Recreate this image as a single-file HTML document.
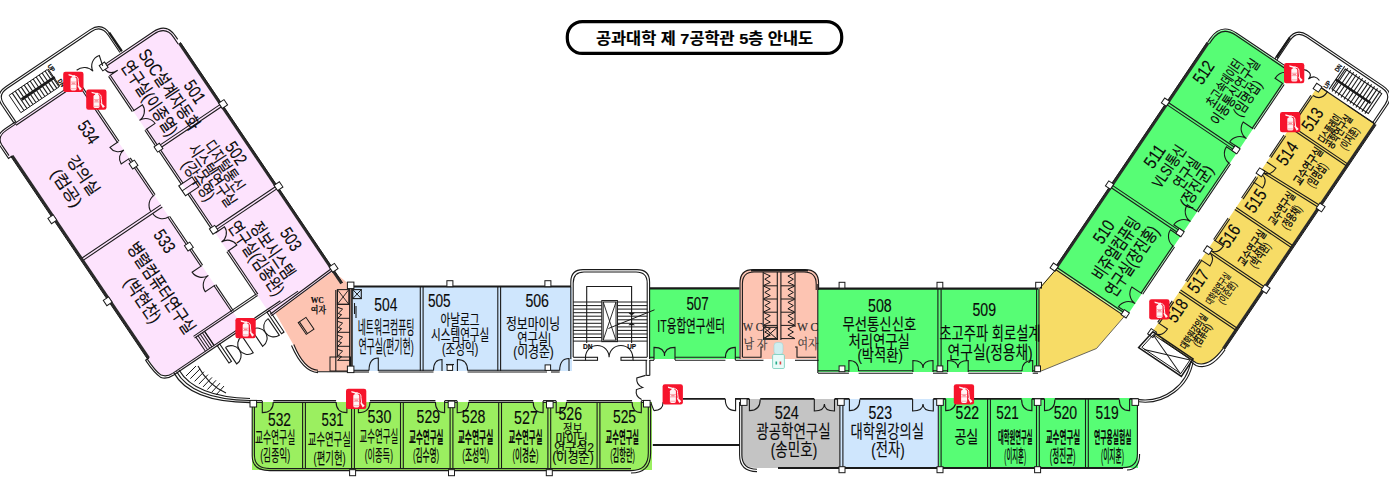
<!DOCTYPE html><html lang="ko"><head><meta charset="utf-8"><title>공과대학 제 7공학관 5층 안내도</title><style>html,body{margin:0;padding:0;background:#fff}svg{display:block}text{font-family:"Liberation Sans","Noto Sans CJK KR",sans-serif;fill:#0a0a0a;stroke:#0a0a0a;stroke-width:.15px}</style></head><body><svg width="1389" height="487" viewBox="0 0 1389 487"><rect x="353" y="287" width="219" height="84" fill="#cfe6fd" stroke="none" stroke-width="1"/>
<rect x="649" y="288" width="90" height="71" fill="#57fd75" stroke="none" stroke-width="1"/>
<path d="M740,359 V280 Q740,270 750,270 H808 Q818,270 818,280 V359 Z" fill="#fdc4b2" stroke="none" stroke-width="1"/>
<rect x="818" y="289" width="221" height="83" fill="#57fd75" stroke="none" stroke-width="1"/>
<polygon points="1039,288 1056.6,268.7 1125.1,315.5 1096.5,348.5 1040,371.5 1039,371.5" fill="#f7dc66" stroke="none" stroke-width="1"/>
<rect x="252" y="402" width="400" height="68" fill="#9bef60" stroke="none" stroke-width="1"/>
<path d="M741,399 H841 V468 H757 Q741,468 741,454 Z" fill="#c4c4c4" stroke="none" stroke-width="1"/>
<rect x="840" y="399" width="99" height="69" fill="#cfe6fd" stroke="none" stroke-width="1"/>
<rect x="939" y="398" width="199" height="70" fill="#57fd75" stroke="none" stroke-width="1"/>
<g transform="matrix(0.5592,0.8290,-0.8290,0.5592,165.7,23.4)">
<path d="M16,0 H312 L302,76 H0 V16 Q0,0 16,0 Z" fill="#fde3fd" stroke="none" stroke-width="1"/>
<path d="M-1.5,105.5 H295 V190 Q293,202 280,202 H24 V204.5 H9 Q-1.5,203 -1.5,192 Z" fill="#fde3fd" stroke="none" stroke-width="1"/>
</g>
<g transform="matrix(0.5592,-0.8290,0.8290,0.5592,1056.3,268.5)">
<path d="M0,0 H277 Q295,0 295,18 V85 H0 Z" fill="#57fd75" stroke="none" stroke-width="1"/>
<path d="M27,183 Q3,182 0,169 V115 H298 V183 Z" fill="#f7dc66" stroke="none" stroke-width="1"/>
</g>
<path d="M275,312.5 L333,271.5 L351.5,286 V371.5 H317 Q305,371 293,344 Z" fill="#fdc4b2" stroke="none" stroke-width="1"/>
<g transform="matrix(0.5592,0.8290,-0.8290,0.5592,165.7,23.4)">
<path d="M0,76 V15 Q0,-1 16,-1 H20" fill="none" stroke="#1a1a1a" stroke-width="1.1"/>
<path d="M2.2,76 V16 Q2.2,1.2 16,1.2 H24" fill="none" stroke="#1a1a1a" stroke-width="1.1"/>
<line x1="24" y1="-0.3" x2="314" y2="-0.3" stroke="#2a2a2a" stroke-width="2.8"/>
<line x1="24" y1="-1.6" x2="314" y2="-1.6" stroke="#1a1a1a" stroke-width="0.9"/>
<line x1="97.7" y1="0" x2="97.7" y2="76" stroke="#1a1a1a" stroke-width="1.1"/>
<line x1="100.3" y1="0" x2="100.3" y2="76" stroke="#1a1a1a" stroke-width="1.1"/>
<line x1="196.7" y1="0" x2="196.7" y2="76" stroke="#1a1a1a" stroke-width="1.1"/>
<line x1="199.3" y1="0" x2="199.3" y2="76" stroke="#1a1a1a" stroke-width="1.1"/>
<line x1="296" y1="0" x2="299.5" y2="76" stroke="#1a1a1a" stroke-width="1.1"/>
<line x1="298" y1="0" x2="301.5" y2="76" stroke="#1a1a1a" stroke-width="1.1"/>
<line x1="12" y1="75" x2="54.5" y2="75" stroke="#1a1a1a" stroke-width="1.1"/>
<line x1="12" y1="77" x2="54.5" y2="77" stroke="#1a1a1a" stroke-width="1.1"/>
<line x1="77" y1="75" x2="142" y2="75" stroke="#1a1a1a" stroke-width="1.1"/>
<line x1="77" y1="77" x2="142" y2="77" stroke="#1a1a1a" stroke-width="1.1"/>
<line x1="154" y1="75" x2="198" y2="75" stroke="#1a1a1a" stroke-width="1.1"/>
<line x1="154" y1="77" x2="198" y2="77" stroke="#1a1a1a" stroke-width="1.1"/>
<line x1="223.5" y1="75" x2="276" y2="75" stroke="#1a1a1a" stroke-width="1.1"/>
<line x1="223.5" y1="77" x2="276" y2="77" stroke="#1a1a1a" stroke-width="1.1"/>
<path d="M54.5,76 L54.5,64.75 A11.25,11.25 0 0 1 65.75,76 M77.0,76 L77.0,64.75 A11.25,11.25 0 0 0 65.75,76" fill="none" stroke="#1a1a1a" stroke-width="1.1"/>
<path d="M201.5,76 L201.5,65.0 A11.0,11.0 0 0 1 212.5,76 M223.5,76 L223.5,65.0 A11.0,11.0 0 0 0 212.5,76" fill="none" stroke="#1a1a1a" stroke-width="1.1"/>
<rect x="142" y="64" width="12" height="16" fill="none" stroke="#1a1a1a" stroke-width="1.1"/>
<line x1="148" y1="64" x2="148" y2="80" stroke="#1a1a1a" stroke-width="1.0"/>
<path d="M0,76 H3 Q12,76 12,66 V76" fill="none" stroke="#1a1a1a" stroke-width="1.1"/>
<rect x="95.8" y="-5.7" width="6.4" height="6.4" fill="#fff" stroke="#1a1a1a" stroke-width="1"/>
<rect x="194.8" y="-5.7" width="6.4" height="6.4" fill="#fff" stroke="#1a1a1a" stroke-width="1"/>
<rect x="293.3" y="-5.7" width="6.4" height="6.4" fill="#fff" stroke="#1a1a1a" stroke-width="1"/>
<rect x="-2.2" y="72.3" width="6.4" height="6.4" fill="#fff" stroke="#1a1a1a" stroke-width="1"/>
<rect x="95.8" y="72.3" width="6.4" height="6.4" fill="#fff" stroke="#1a1a1a" stroke-width="1"/>
<rect x="194.8" y="72.3" width="6.4" height="6.4" fill="#fff" stroke="#1a1a1a" stroke-width="1"/>
<line x1="-1.5" y1="104.6" x2="71.6" y2="104.6" stroke="#1a1a1a" stroke-width="1.1"/>
<line x1="-1.5" y1="106.6" x2="71.6" y2="106.6" stroke="#1a1a1a" stroke-width="1.1"/>
<line x1="91.6" y1="104.6" x2="136" y2="104.6" stroke="#1a1a1a" stroke-width="1.1"/>
<line x1="91.6" y1="106.6" x2="136" y2="106.6" stroke="#1a1a1a" stroke-width="1.1"/>
<line x1="162" y1="104.6" x2="221" y2="104.6" stroke="#1a1a1a" stroke-width="1.1"/>
<line x1="162" y1="106.6" x2="221" y2="106.6" stroke="#1a1a1a" stroke-width="1.1"/>
<line x1="244.5" y1="104.6" x2="276" y2="104.6" stroke="#1a1a1a" stroke-width="1.1"/>
<line x1="244.5" y1="106.6" x2="276" y2="106.6" stroke="#1a1a1a" stroke-width="1.1"/>
<path d="M71.6,105.5 L71.6,115.5 A10.0,10.0 0 0 0 81.6,105.5 M91.6,105.5 L91.6,115.5 A10.0,10.0 0 0 1 81.6,105.5" fill="none" stroke="#1a1a1a" stroke-width="1.1"/>
<path d="M221,105.5 L221,117.25 A11.75,11.75 0 0 0 232.75,105.5 M244.5,105.5 L244.5,117.25 A11.75,11.75 0 0 1 232.75,105.5" fill="none" stroke="#1a1a1a" stroke-width="1.1"/>
<path d="M136,105.5 A12,12 0 0 0 148,117.5" fill="none" stroke="#1a1a1a" stroke-width="1.1"/>
<path d="M150.3,117 A11.5,11.5 0 0 0 162,105.5" fill="none" stroke="#1a1a1a" stroke-width="1.1"/>
<line x1="147.7" y1="105.5" x2="147.7" y2="201" stroke="#1a1a1a" stroke-width="1.1"/>
<line x1="150.3" y1="105.5" x2="150.3" y2="201" stroke="#1a1a1a" stroke-width="1.1"/>
<line x1="24" y1="201.3" x2="268" y2="201.3" stroke="#2a2a2a" stroke-width="2.8"/>
<line x1="24" y1="202.8" x2="268" y2="202.8" stroke="#1a1a1a" stroke-width="0.9"/>
<path d="M-2.5,180 V192 Q-2.5,205.5 9,205.8 H24 V201" fill="none" stroke="#1a1a1a" stroke-width="1.1"/>
<path d="M-0.5,180 V192 Q-0.5,203.5 9,203.8 H22" fill="none" stroke="#1a1a1a" stroke-width="1.1"/>
<path d="M268,201 V205 H270 Q283,205 291,202 Q296,198 296,190" fill="none" stroke="#1a1a1a" stroke-width="1.1"/>
<path d="M268,203 Q283,203 289,200.5 Q294,197 294,190" fill="none" stroke="#1a1a1a" stroke-width="1.1"/>
<line x1="-1.5" y1="105.5" x2="-1.5" y2="181" stroke="#1a1a1a" stroke-width="1.1"/>
<line x1="0.8" y1="105.5" x2="0.8" y2="181" stroke="#1a1a1a" stroke-width="1.1"/>
<rect x="95.8" y="102.4" width="6.4" height="6.4" fill="#fff" stroke="#1a1a1a" stroke-width="1"/>
<rect x="194.8" y="102.4" width="6.4" height="6.4" fill="#fff" stroke="#1a1a1a" stroke-width="1"/>
<rect x="95.8" y="200.3" width="6.4" height="6.4" fill="#fff" stroke="#1a1a1a" stroke-width="1"/>
<rect x="194.8" y="200.3" width="6.4" height="6.4" fill="#fff" stroke="#1a1a1a" stroke-width="1"/>
<line x1="275" y1="76" x2="275" y2="152" stroke="#1a1a1a" stroke-width="1.1"/>
<line x1="277" y1="76" x2="277" y2="152" stroke="#1a1a1a" stroke-width="1.1"/>
<line x1="294" y1="60" x2="294" y2="190" stroke="#1a1a1a" stroke-width="1.1"/>
<line x1="296" y1="40" x2="296" y2="190" stroke="#1a1a1a" stroke-width="1.1"/>
<line x1="277" y1="140" x2="294" y2="140" stroke="#1a1a1a" stroke-width="1.0"/>
<line x1="277" y1="142.6" x2="294" y2="142.6" stroke="#1a1a1a" stroke-width="1.0"/>
<line x1="277" y1="145.2" x2="294" y2="145.2" stroke="#1a1a1a" stroke-width="1.0"/>
<line x1="277" y1="147.8" x2="294" y2="147.8" stroke="#1a1a1a" stroke-width="1.0"/>
<line x1="277" y1="150.4" x2="294" y2="150.4" stroke="#1a1a1a" stroke-width="1.0"/>
<line x1="277" y1="140" x2="294" y2="140" stroke="#1a1a1a" stroke-width="1.1"/>
<path d="M0,76 L-10.5,73 A11,11 0 0 0 -1,87 A12,12 0 0 0 -11,100" fill="none" stroke="#1a1a1a" stroke-width="1.1"/>
<path d="M302,131.6 H322 A10,10 0 0 0 302,131.6" fill="none" stroke="#1a1a1a" stroke-width="1.1"/>
<path d="M302,111.6 H322 A10,10 0 0 1 302,111.6" fill="none" stroke="#1a1a1a" stroke-width="1.1"/>
<path d="M302,100.2 H322 A10,10 0 0 0 302,100.2" fill="none" stroke="#1a1a1a" stroke-width="1.1"/>
<path d="M302,80.2 H322 A10,10 0 0 1 302,80.2" fill="none" stroke="#1a1a1a" stroke-width="1.1"/>
<rect x="296" y="134.5" width="21" height="3" fill="none" stroke="#1a1a1a" stroke-width="1.1"/>
<rect x="296" y="74.5" width="26" height="3" fill="none" stroke="#1a1a1a" stroke-width="1.1"/>
<path d="M-1.5,52 H-22 Q-37,52 -37,66 V168 Q-37,181.5 -24,181.5 H-1.5" fill="none" stroke="#1a1a1a" stroke-width="1.1"/>
<path d="M-1.5,54.2 H-22 Q-34.8,54.2 -34.8,66 V168 Q-34.8,179.3 -24,179.3 H-1.5" fill="none" stroke="#1a1a1a" stroke-width="1.1"/>
<line x1="-24" y1="52" x2="-1.5" y2="52" stroke="#1a1a1a" stroke-width="2.4"/>
<rect x="-28" y="124" width="21" height="46" fill="none" stroke="#1a1a1a" stroke-width="0.9"/>
<line x1="-28" y1="123" x2="-7" y2="123" stroke="#1a1a1a" stroke-width="1.1"/>
<line x1="-28" y1="126.6" x2="-7" y2="126.6" stroke="#1a1a1a" stroke-width="1.1"/>
<line x1="-28" y1="130.2" x2="-7" y2="130.2" stroke="#1a1a1a" stroke-width="1.1"/>
<line x1="-28" y1="133.8" x2="-7" y2="133.8" stroke="#1a1a1a" stroke-width="1.1"/>
<line x1="-28" y1="137.4" x2="-7" y2="137.4" stroke="#1a1a1a" stroke-width="1.1"/>
<line x1="-28" y1="141" x2="-7" y2="141" stroke="#1a1a1a" stroke-width="1.1"/>
<line x1="-28" y1="144.6" x2="-7" y2="144.6" stroke="#1a1a1a" stroke-width="1.1"/>
<line x1="-28" y1="148.2" x2="-7" y2="148.2" stroke="#1a1a1a" stroke-width="1.1"/>
<line x1="-28" y1="151.8" x2="-7" y2="151.8" stroke="#1a1a1a" stroke-width="1.1"/>
<line x1="-28" y1="155.4" x2="-7" y2="155.4" stroke="#1a1a1a" stroke-width="1.1"/>
<line x1="-28" y1="159" x2="-7" y2="159" stroke="#1a1a1a" stroke-width="1.1"/>
<line x1="-28" y1="162.6" x2="-7" y2="162.6" stroke="#1a1a1a" stroke-width="1.1"/>
<line x1="-28" y1="166.2" x2="-7" y2="166.2" stroke="#1a1a1a" stroke-width="1.1"/>
<line x1="-17.5" y1="122" x2="-17.5" y2="162" stroke="#1a1a1a" stroke-width="2.8"/>
<text x="-31" y="122" font-size="6.5" font-weight="700" textLength="8" lengthAdjust="spacingAndGlyphs">UP</text>
<text x="-13" y="122" font-size="6.5" font-weight="700" textLength="8" lengthAdjust="spacingAndGlyphs">DN</text>
<text x="61" y="20.4" font-size="18" font-weight="400" textLength="24" lengthAdjust="spacingAndGlyphs">501</text>
<text x="10" y="40.5" font-size="18" font-weight="400" textLength="94" lengthAdjust="spacingAndGlyphs">SoC설계자동화</text>
<text x="10" y="61.5" font-size="18" font-weight="400" textLength="86" lengthAdjust="spacingAndGlyphs">연구실(이종열)</text>
<text x="135" y="20.4" font-size="18" font-weight="400" textLength="24" lengthAdjust="spacingAndGlyphs">502</text>
<text x="122" y="37" font-size="16.5" font-weight="400" textLength="58" lengthAdjust="spacingAndGlyphs">디지털통신</text>
<text x="116" y="52" font-size="16.5" font-weight="400" textLength="72" lengthAdjust="spacingAndGlyphs">시스템연구실</text>
<text x="126" y="66.5" font-size="16.5" font-weight="400" textLength="45" lengthAdjust="spacingAndGlyphs">(강수영)</text>
<text x="237" y="23" font-size="18" font-weight="400" textLength="24" lengthAdjust="spacingAndGlyphs">503</text>
<text x="216" y="44.5" font-size="18" font-weight="400" textLength="64" lengthAdjust="spacingAndGlyphs">정보시스템</text>
<text x="203" y="62.5" font-size="18" font-weight="400" textLength="85" lengthAdjust="spacingAndGlyphs">연구실(김종완)</text>
<text x="35" y="131" font-size="18" font-weight="400" textLength="24" lengthAdjust="spacingAndGlyphs">534</text>
<text x="58" y="159" font-size="16.5" font-weight="400" textLength="44" lengthAdjust="spacingAndGlyphs">강의실</text>
<text x="60" y="180" font-size="16.5" font-weight="400" textLength="42" lengthAdjust="spacingAndGlyphs">(컴공)</text>
<text x="168" y="129" font-size="18" font-weight="400" textLength="24" lengthAdjust="spacingAndGlyphs">533</text>
<text x="164" y="158" font-size="18" font-weight="400" textLength="106" lengthAdjust="spacingAndGlyphs">병렬컴퓨터연구실</text>
<text x="191" y="180" font-size="18" font-weight="400" textLength="51" lengthAdjust="spacingAndGlyphs">(박현찬)</text>
</g>
<line x1="351.2" y1="287" x2="351.2" y2="371" stroke="#1a1a1a" stroke-width="1.1"/>
<path d="M317,371.8 H351" fill="none" stroke="#1a1a1a" stroke-width="1.1"/>
<path d="M291.5,345.5 Q303,372 318,372.6" fill="none" stroke="#1a1a1a" stroke-width="1.1"/>
<path d="M293.8,344.5 Q304,369.5 318,370.2" fill="none" stroke="#1a1a1a" stroke-width="1.1"/>
<text x="310.8" y="303" font-size="8" font-weight="700" textLength="13" lengthAdjust="spacingAndGlyphs" style='font-family:"Liberation Serif","Noto Serif CJK KR",serif;'>WC</text>
<text x="310.8" y="313" font-size="8.6" font-weight="700" textLength="15.4" lengthAdjust="spacingAndGlyphs" style='font-family:"Liberation Serif","Noto Serif CJK KR",serif;'>여자</text>
<g transform="translate(306.1,325.9) rotate(55.6)" fill="none" stroke="#1a1a1a" stroke-width="1"><rect x="-7.1" y="-4.7" width="14.2" height="9.4"/><line x1="-7.1" y1="3.2" x2="7.1" y2="3.2"/></g>
<line x1="335.8" y1="290" x2="335.8" y2="371" stroke="#1a1a1a" stroke-width="1.1"/>
<line x1="337.4" y1="290" x2="337.4" y2="357" stroke="#1a1a1a" stroke-width="1.0"/>
<rect x="337.4" y="289.6" width="11.4" height="14.7" fill="none" stroke="#1a1a1a" stroke-width="1.0"/>
<line x1="337.4" y1="289.6" x2="348.8" y2="304.3" stroke="#1a1a1a" stroke-width="0.9"/>
<line x1="348.8" y1="289.6" x2="337.4" y2="304.3" stroke="#1a1a1a" stroke-width="0.9"/>
<path d="M337.6,307.3 l5,1.8 l-4.4,4.4 l3.4,1.2 l-4,3.6 M337.4,318.3 H350" fill="none" stroke="#1a1a1a" stroke-width="1.0"/>
<path d="M337.6,321.3 l5,1.8 l-4.4,4.4 l3.4,1.2 l-4,3.6 M337.4,332.3 H350" fill="none" stroke="#1a1a1a" stroke-width="1.0"/>
<path d="M337.6,335.3 l5,1.8 l-4.4,4.4 l3.4,1.2 l-4,3.6 M337.4,346.3 H350" fill="none" stroke="#1a1a1a" stroke-width="1.0"/>
<path d="M337.6,349.3 l5,1.8 l-4.4,4.4 l3.4,1.2 l-4,3.6 M337.4,360.3 H350" fill="none" stroke="#1a1a1a" stroke-width="1.0"/>
<line x1="337.4" y1="304.3" x2="350" y2="304.3" stroke="#1a1a1a" stroke-width="1.0"/>
<rect x="330" y="357" width="20.5" height="14" fill="none" stroke="#1a1a1a" stroke-width="1.0"/>
<line x1="349.6" y1="287" x2="349.6" y2="371" stroke="#1a1a1a" stroke-width="1.0"/>
<path d="M174,373 Q190,402 250,402.5" fill="none" stroke="#1a1a1a" stroke-width="1.4"/>
<path d="M176.5,371.5 Q192,399.5 250,400.5" fill="none" stroke="#1a1a1a" stroke-width="1.2"/>
<path d="M179,370 Q195,397 250,398.5" fill="none" stroke="#1a1a1a" stroke-width="1.2"/>
<path d="M198,366 Q208,385 226,393" fill="none" stroke="#1a1a1a" stroke-width="1.1"/>
<line x1="186" y1="376" x2="196" y2="366" stroke="#1a1a1a" stroke-width="1.0"/>
<line x1="190.3" y1="378.7" x2="200" y2="368.9" stroke="#1a1a1a" stroke-width="1.0"/>
<line x1="194.6" y1="381.4" x2="204" y2="371.7" stroke="#1a1a1a" stroke-width="1.0"/>
<line x1="198.9" y1="384.1" x2="208" y2="374.6" stroke="#1a1a1a" stroke-width="1.0"/>
<line x1="203.1" y1="386.9" x2="212" y2="377.4" stroke="#1a1a1a" stroke-width="1.0"/>
<line x1="207.4" y1="389.6" x2="216" y2="380.3" stroke="#1a1a1a" stroke-width="1.0"/>
<line x1="211.7" y1="392.3" x2="220" y2="383.1" stroke="#1a1a1a" stroke-width="1.0"/>
<line x1="216" y1="395" x2="224" y2="386" stroke="#1a1a1a" stroke-width="1.0"/>
<g transform="matrix(0.5592,-0.8290,0.8290,0.5592,1056.3,268.5)">
<line x1="0" y1="-0.3" x2="272" y2="-0.3" stroke="#2a2a2a" stroke-width="2.8"/>
<line x1="0" y1="-1.6" x2="272" y2="-1.6" stroke="#1a1a1a" stroke-width="0.9"/>
<path d="M272,-1 H276 Q296,-1 296,18 V85" fill="none" stroke="#1a1a1a" stroke-width="1.1"/>
<path d="M272,1.2 H276 Q293.8,1.2 293.8,18 V85" fill="none" stroke="#1a1a1a" stroke-width="1.1"/>
<line x1="-1.3" y1="0" x2="-1.3" y2="85" stroke="#1a1a1a" stroke-width="1.1"/>
<line x1="1.3" y1="0" x2="1.3" y2="85" stroke="#1a1a1a" stroke-width="1.1"/>
<line x1="97.7" y1="0" x2="97.7" y2="85" stroke="#1a1a1a" stroke-width="1.1"/>
<line x1="100.3" y1="0" x2="100.3" y2="85" stroke="#1a1a1a" stroke-width="1.1"/>
<line x1="197.7" y1="0" x2="197.7" y2="85" stroke="#1a1a1a" stroke-width="1.1"/>
<line x1="200.3" y1="0" x2="200.3" y2="85" stroke="#1a1a1a" stroke-width="1.1"/>
<line x1="27" y1="84" x2="84" y2="84" stroke="#1a1a1a" stroke-width="1.1"/>
<line x1="27" y1="86" x2="84" y2="86" stroke="#1a1a1a" stroke-width="1.1"/>
<line x1="126" y1="84" x2="184" y2="84" stroke="#1a1a1a" stroke-width="1.1"/>
<line x1="126" y1="86" x2="184" y2="86" stroke="#1a1a1a" stroke-width="1.1"/>
<line x1="226" y1="84" x2="280" y2="84" stroke="#1a1a1a" stroke-width="1.1"/>
<line x1="226" y1="86" x2="280" y2="86" stroke="#1a1a1a" stroke-width="1.1"/>
<path d="M3,85 L3,73.0 A12.0,12.0 0 0 1 15.0,85 M27,85 L27,73.0 A12.0,12.0 0 0 0 15.0,85" fill="none" stroke="#1a1a1a" stroke-width="1.1"/>
<path d="M102,85 L102,73.0 A12.0,12.0 0 0 1 114.0,85 M126,85 L126,73.0 A12.0,12.0 0 0 0 114.0,85" fill="none" stroke="#1a1a1a" stroke-width="1.1"/>
<path d="M96,85 V73 A12,12 0 0 0 84,85" fill="none" stroke="#1a1a1a" stroke-width="1.1"/>
<path d="M202,85 L202,73.0 A12.0,12.0 0 0 1 214.0,85 M226,85 L226,73.0 A12.0,12.0 0 0 0 214.0,85" fill="none" stroke="#1a1a1a" stroke-width="1.1"/>
<path d="M196,85 V73 A12,12 0 0 0 184,85" fill="none" stroke="#1a1a1a" stroke-width="1.1"/>
<path d="M280,85 V75 Q290,75 293,85" fill="none" stroke="#1a1a1a" stroke-width="1.1"/>
<rect x="-3" y="-5.5" width="6" height="6" fill="#fff" stroke="#1a1a1a" stroke-width="1"/>
<rect x="96" y="-5.5" width="6" height="6" fill="#fff" stroke="#1a1a1a" stroke-width="1"/>
<rect x="196" y="-5.5" width="6" height="6" fill="#fff" stroke="#1a1a1a" stroke-width="1"/>
<rect x="-2" y="79.5" width="6" height="6" fill="#fff" stroke="#1a1a1a" stroke-width="1"/>
<rect x="96" y="79.5" width="6" height="6" fill="#fff" stroke="#1a1a1a" stroke-width="1"/>
<rect x="196" y="79.5" width="6" height="6" fill="#fff" stroke="#1a1a1a" stroke-width="1"/>
<line x1="27" y1="183.3" x2="298" y2="183.3" stroke="#2a2a2a" stroke-width="2.8"/>
<line x1="27" y1="184.8" x2="298" y2="184.8" stroke="#1a1a1a" stroke-width="0.9"/>
<path d="M0,127 V169 Q3,182 27,183" fill="none" stroke="#1a1a1a" stroke-width="1.1"/>
<path d="M-2.2,164 V170 Q1,185 27,185.4" fill="none" stroke="#1a1a1a" stroke-width="1.1"/>
<line x1="49.3" y1="115" x2="49.3" y2="183" stroke="#1a1a1a" stroke-width="1.1"/>
<line x1="51.7" y1="115" x2="51.7" y2="183" stroke="#1a1a1a" stroke-width="1.1"/>
<line x1="98.8" y1="115" x2="98.8" y2="183" stroke="#1a1a1a" stroke-width="1.1"/>
<line x1="101.2" y1="115" x2="101.2" y2="183" stroke="#1a1a1a" stroke-width="1.1"/>
<line x1="148.8" y1="115" x2="148.8" y2="183" stroke="#1a1a1a" stroke-width="1.1"/>
<line x1="151.2" y1="115" x2="151.2" y2="183" stroke="#1a1a1a" stroke-width="1.1"/>
<line x1="247.3" y1="115" x2="247.3" y2="183" stroke="#1a1a1a" stroke-width="1.1"/>
<line x1="249.7" y1="115" x2="249.7" y2="183" stroke="#1a1a1a" stroke-width="1.1"/>
<line x1="194.8" y1="115" x2="197.3" y2="183" stroke="#1a1a1a" stroke-width="1.1"/>
<line x1="197.2" y1="115" x2="199.7" y2="183" stroke="#1a1a1a" stroke-width="1.1"/>
<line x1="298" y1="115" x2="298" y2="183" stroke="#1a1a1a" stroke-width="1.1"/>
<line x1="12" y1="114.2" x2="38" y2="114.2" stroke="#1a1a1a" stroke-width="1.1"/>
<line x1="12" y1="116" x2="38" y2="116" stroke="#1a1a1a" stroke-width="1.1"/>
<line x1="62" y1="114.2" x2="88" y2="114.2" stroke="#1a1a1a" stroke-width="1.1"/>
<line x1="62" y1="116" x2="88" y2="116" stroke="#1a1a1a" stroke-width="1.1"/>
<line x1="112" y1="114.2" x2="138" y2="114.2" stroke="#1a1a1a" stroke-width="1.1"/>
<line x1="112" y1="116" x2="138" y2="116" stroke="#1a1a1a" stroke-width="1.1"/>
<line x1="162" y1="114.2" x2="188" y2="114.2" stroke="#1a1a1a" stroke-width="1.1"/>
<line x1="162" y1="116" x2="188" y2="116" stroke="#1a1a1a" stroke-width="1.1"/>
<line x1="212" y1="114.2" x2="238" y2="114.2" stroke="#1a1a1a" stroke-width="1.1"/>
<line x1="212" y1="116" x2="238" y2="116" stroke="#1a1a1a" stroke-width="1.1"/>
<line x1="262" y1="114.2" x2="286" y2="114.2" stroke="#1a1a1a" stroke-width="1.1"/>
<line x1="262" y1="116" x2="286" y2="116" stroke="#1a1a1a" stroke-width="1.1"/>
<path d="M12,115 V126 Q1,126 1,116" fill="none" stroke="#1a1a1a" stroke-width="1.1"/>
<path d="M112,115 V126 Q101,126 101,116" fill="none" stroke="#1a1a1a" stroke-width="1.1"/>
<path d="M88,115 V126 Q99,126 99,116" fill="none" stroke="#1a1a1a" stroke-width="1.1"/>
<path d="M206,115 V126 Q195,126 195,116" fill="none" stroke="#1a1a1a" stroke-width="1.1"/>
<path d="M182,115 V126 Q193,126 193,116" fill="none" stroke="#1a1a1a" stroke-width="1.1"/>
<path d="M298,115 V126 Q287,126 287,116" fill="none" stroke="#1a1a1a" stroke-width="1.1"/>
<rect x="-3.2" y="112.3" width="6.4" height="6.4" fill="#fff" stroke="#1a1a1a" stroke-width="1"/>
<rect x="96.8" y="112.3" width="6.4" height="6.4" fill="#fff" stroke="#1a1a1a" stroke-width="1"/>
<rect x="190.8" y="112.3" width="6.4" height="6.4" fill="#fff" stroke="#1a1a1a" stroke-width="1"/>
<rect x="292.8" y="112.3" width="6.4" height="6.4" fill="#fff" stroke="#1a1a1a" stroke-width="1"/>
<rect x="96.8" y="181.8" width="6.4" height="6.4" fill="#fff" stroke="#1a1a1a" stroke-width="1"/>
<rect x="195.3" y="181.8" width="6.4" height="6.4" fill="#fff" stroke="#1a1a1a" stroke-width="1"/>
<path d="M-19.5,112.5 L1.5,115.5 L1.5,164 L-19.5,164 Z" fill="none" stroke="#1a1a1a" stroke-width="1.5"/>
<path d="M-17.5,115 L-0.5,117.5 L-0.5,162 L-17.5,162 Z" fill="none" stroke="#1a1a1a" stroke-width="0.9"/>
<line x1="-18" y1="118" x2="-1" y2="162" stroke="#1a1a1a" stroke-width="1.0"/>
<line x1="-1" y1="118" x2="-18" y2="162" stroke="#1a1a1a" stroke-width="1.0"/>
<path d="M296,64 H320 Q334,64 334,78 V169 Q334,183 320,183 H298" fill="none" stroke="#1a1a1a" stroke-width="1.1"/>
<path d="M296,66.2 H320 Q331.8,66.2 331.8,78 V169 Q331.8,180.8 320,180.8 H298" fill="none" stroke="#1a1a1a" stroke-width="1.1"/>
<line x1="298" y1="64.5" x2="322" y2="64.5" stroke="#1a1a1a" stroke-width="2.4"/>
<line x1="298" y1="183" x2="298" y2="150" stroke="#1a1a1a" stroke-width="1.1"/>
<path d="M296,90 Q306,92 304,100 Q303,104 298,103 Q306,106 303,113" fill="none" stroke="#1a1a1a" stroke-width="1.1"/>
<text x="300" y="124" font-size="6.5" font-weight="700" textLength="8" lengthAdjust="spacingAndGlyphs">UP</text>
<text x="320" y="124" font-size="6.5" font-weight="700" textLength="8" lengthAdjust="spacingAndGlyphs">DN</text>
<rect x="303" y="128" width="24" height="44" fill="none" stroke="#1a1a1a" stroke-width="1.0"/>
<line x1="301" y1="126" x2="329" y2="126" stroke="#1a1a1a" stroke-width="1.1"/>
<line x1="301" y1="129.6" x2="329" y2="129.6" stroke="#1a1a1a" stroke-width="1.1"/>
<line x1="301" y1="133.2" x2="329" y2="133.2" stroke="#1a1a1a" stroke-width="1.1"/>
<line x1="301" y1="136.8" x2="329" y2="136.8" stroke="#1a1a1a" stroke-width="1.1"/>
<line x1="301" y1="140.4" x2="329" y2="140.4" stroke="#1a1a1a" stroke-width="1.1"/>
<line x1="301" y1="144" x2="329" y2="144" stroke="#1a1a1a" stroke-width="1.1"/>
<line x1="301" y1="147.6" x2="329" y2="147.6" stroke="#1a1a1a" stroke-width="1.1"/>
<line x1="301" y1="151.2" x2="329" y2="151.2" stroke="#1a1a1a" stroke-width="1.1"/>
<line x1="301" y1="154.8" x2="329" y2="154.8" stroke="#1a1a1a" stroke-width="1.1"/>
<line x1="301" y1="158.4" x2="329" y2="158.4" stroke="#1a1a1a" stroke-width="1.1"/>
<line x1="301" y1="162" x2="329" y2="162" stroke="#1a1a1a" stroke-width="1.1"/>
<line x1="301" y1="165.6" x2="329" y2="165.6" stroke="#1a1a1a" stroke-width="1.1"/>
<line x1="301" y1="169.2" x2="329" y2="169.2" stroke="#1a1a1a" stroke-width="1.1"/>
<line x1="313" y1="126" x2="313" y2="168" stroke="#1a1a1a" stroke-width="2.6"/>
<text x="45" y="25" font-size="18" font-weight="400" textLength="24" lengthAdjust="spacingAndGlyphs">510</text>
<text x="14.5" y="45" font-size="18" font-weight="400" textLength="71" lengthAdjust="spacingAndGlyphs">비쥬얼컴퓨팅</text>
<text x="8" y="65" font-size="18" font-weight="400" textLength="81" lengthAdjust="spacingAndGlyphs">연구실(장진홍)</text>
<text x="136" y="25" font-size="18" font-weight="400" textLength="24" lengthAdjust="spacingAndGlyphs">511</text>
<text x="124" y="42" font-size="16" font-weight="400" textLength="47" lengthAdjust="spacingAndGlyphs">VLSI통신</text>
<text x="135" y="60.4" font-size="16" font-weight="400" textLength="34" lengthAdjust="spacingAndGlyphs">연구실</text>
<text x="123" y="76" font-size="16" font-weight="400" textLength="47" lengthAdjust="spacingAndGlyphs">(정진균)</text>
<text x="233" y="18.5" font-size="18" font-weight="400" textLength="24" lengthAdjust="spacingAndGlyphs">512</text>
<text x="220.5" y="41" font-size="14.5" font-weight="400" textLength="54" lengthAdjust="spacingAndGlyphs">초고속데이터</text>
<text x="208.5" y="54.6" font-size="14.5" font-weight="400" textLength="76" lengthAdjust="spacingAndGlyphs">이동통신연구실</text>
<text x="228" y="68.4" font-size="14.5" font-weight="400" textLength="40" lengthAdjust="spacingAndGlyphs">(임명섭)</text>
<text x="20.6" y="130" font-size="18" font-weight="400" textLength="24" lengthAdjust="spacingAndGlyphs">518</text>
<text x="4.6" y="153" font-size="10.5" font-weight="500" textLength="40" lengthAdjust="spacingAndGlyphs">대학원강의실</text>
<text x="14" y="162" font-size="10.5" font-weight="500" textLength="25" lengthAdjust="spacingAndGlyphs">(컴퓨터)</text>
<text x="56.8" y="131" font-size="18" font-weight="400" textLength="24" lengthAdjust="spacingAndGlyphs">517</text>
<text x="55.7" y="149" font-size="10" font-weight="400" textLength="36" lengthAdjust="spacingAndGlyphs">대학원연구실</text>
<text x="63.3" y="159" font-size="10" font-weight="400" textLength="25" lengthAdjust="spacingAndGlyphs">(이준환)</text>
<text x="111.7" y="131.7" font-size="18" font-weight="400" textLength="24" lengthAdjust="spacingAndGlyphs">516</text>
<text x="106.5" y="155" font-size="12" font-weight="500" textLength="40" lengthAdjust="spacingAndGlyphs">교수연구실</text>
<text x="111" y="165.6" font-size="12" font-weight="500" textLength="28" lengthAdjust="spacingAndGlyphs">(박석환)</text>
<text x="155.5" y="133.7" font-size="18" font-weight="400" textLength="24" lengthAdjust="spacingAndGlyphs">515</text>
<text x="157.2" y="157.6" font-size="12" font-weight="500" textLength="37" lengthAdjust="spacingAndGlyphs">교수연구실</text>
<text x="161" y="170.6" font-size="12" font-weight="500" textLength="26" lengthAdjust="spacingAndGlyphs">(정용채)</text>
<text x="212.5" y="133.3" font-size="18" font-weight="400" textLength="24" lengthAdjust="spacingAndGlyphs">514</text>
<text x="204.5" y="156" font-size="12.5" font-weight="500" textLength="42" lengthAdjust="spacingAndGlyphs">교수연구실</text>
<text x="210" y="168.4" font-size="12.5" font-weight="500" textLength="26.5" lengthAdjust="spacingAndGlyphs">(임명섭)</text>
<text x="254.8" y="135" font-size="18" font-weight="400" textLength="24" lengthAdjust="spacingAndGlyphs">513</text>
<text x="252.6" y="152.8" font-size="11.5" font-weight="500" textLength="32" lengthAdjust="spacingAndGlyphs">디스플레이</text>
<text x="252.4" y="162" font-size="11.5" font-weight="500" textLength="38" lengthAdjust="spacingAndGlyphs">공학연구실</text>
<text x="259.6" y="174.4" font-size="11.5" font-weight="500" textLength="24.6" lengthAdjust="spacingAndGlyphs">(이지훈)</text>
</g>
<line x1="352" y1="286.6" x2="571" y2="286.6" stroke="#1a1a1a" stroke-width="2.0"/>
<line x1="420.3" y1="287" x2="420.3" y2="371" stroke="#1a1a1a" stroke-width="1.1"/>
<line x1="423.1" y1="287" x2="423.1" y2="371" stroke="#1a1a1a" stroke-width="1.1"/>
<line x1="497.8" y1="287" x2="497.8" y2="371" stroke="#1a1a1a" stroke-width="1.1"/>
<line x1="500.6" y1="287" x2="500.6" y2="371" stroke="#1a1a1a" stroke-width="1.1"/>
<line x1="352.2" y1="287" x2="352.2" y2="371" stroke="#1a1a1a" stroke-width="1.1"/>
<line x1="353" y1="370.3" x2="369" y2="370.3" stroke="#1a1a1a" stroke-width="1.1"/>
<line x1="353" y1="372" x2="369" y2="372" stroke="#1a1a1a" stroke-width="1.1"/>
<line x1="378.5" y1="370.3" x2="433.5" y2="370.3" stroke="#1a1a1a" stroke-width="1.1"/>
<line x1="378.5" y1="372" x2="433.5" y2="372" stroke="#1a1a1a" stroke-width="1.1"/>
<line x1="467.6" y1="370.3" x2="547" y2="370.3" stroke="#1a1a1a" stroke-width="1.1"/>
<line x1="467.6" y1="372" x2="547" y2="372" stroke="#1a1a1a" stroke-width="1.1"/>
<line x1="551" y1="370.3" x2="559.7" y2="370.3" stroke="#1a1a1a" stroke-width="1.1"/>
<line x1="551" y1="372" x2="559.7" y2="372" stroke="#1a1a1a" stroke-width="1.1"/>
<path d="M369,370.5 Q369,358 378.3,358 V371" fill="none" stroke="#1a1a1a" stroke-width="1.1"/>
<path d="M433.5,370.5 Q433.5,359.5 442,359.5 V371" fill="none" stroke="#1a1a1a" stroke-width="1.1"/>
<path d="M467.6,370.5 Q467.6,359.5 457.4,359.5 V371" fill="none" stroke="#1a1a1a" stroke-width="1.1"/>
<path d="M559.7,370.5 Q559.7,358.5 569,358.5 V371" fill="none" stroke="#1a1a1a" stroke-width="1.1"/>
<line x1="446" y1="364.5" x2="454" y2="364.5" stroke="#1a1a1a" stroke-width="1.1"/>
<rect x="446.9" y="280.7" width="6" height="6" fill="#fff" stroke="#1a1a1a" stroke-width="1"/>
<rect x="544.9" y="280.7" width="6" height="6" fill="#fff" stroke="#1a1a1a" stroke-width="1"/>
<rect x="347.4" y="282.1" width="6.5" height="6.5" fill="#fff" stroke="#1a1a1a" stroke-width="1"/>
<rect x="347.4" y="366.1" width="6.5" height="6.5" fill="#fff" stroke="#1a1a1a" stroke-width="1"/>
<rect x="447.1" y="364.9" width="5.5" height="5.5" fill="#fff" stroke="#1a1a1a" stroke-width="1"/>
<rect x="545.1" y="364.9" width="5.5" height="5.5" fill="#fff" stroke="#1a1a1a" stroke-width="1"/>
<rect x="352.8" y="289.6" width="8.5" height="9" fill="none" stroke="#1a1a1a" stroke-width="1.1"/>
<line x1="352.8" y1="289.6" x2="361.3" y2="298.6" stroke="#1a1a1a" stroke-width="1.0"/>
<line x1="361.3" y1="289.6" x2="352.8" y2="298.6" stroke="#1a1a1a" stroke-width="1.0"/>
<line x1="354.5" y1="303" x2="354.5" y2="314" stroke="#1a1a1a" stroke-width="1.1"/>
<line x1="356" y1="306" x2="356" y2="318" stroke="#1a1a1a" stroke-width="1.1"/>
<text x="374.3" y="311.3" font-size="17.6" font-weight="400" textLength="23.1" lengthAdjust="spacingAndGlyphs">504</text>
<text x="357.7" y="333.6" font-size="18" font-weight="400" textLength="56.7" lengthAdjust="spacingAndGlyphs">네트워크컴퓨팅</text>
<text x="358.4" y="353.2" font-size="18" font-weight="400" textLength="55.3" lengthAdjust="spacingAndGlyphs">연구실(편기현)</text>
<text x="427.9" y="306.6" font-size="17.6" font-weight="400" textLength="22.7" lengthAdjust="spacingAndGlyphs">505</text>
<text x="440.4" y="324.6" font-size="14.6" font-weight="400" textLength="39" lengthAdjust="spacingAndGlyphs">아날로그</text>
<text x="431" y="339.5" font-size="14.6" font-weight="400" textLength="58.3" lengthAdjust="spacingAndGlyphs">시스템연구실</text>
<text x="442" y="354.4" font-size="14.6" font-weight="400" textLength="36.2" lengthAdjust="spacingAndGlyphs">(조성익)</text>
<text x="525.4" y="306.6" font-size="17.6" font-weight="400" textLength="23.6" lengthAdjust="spacingAndGlyphs">506</text>
<text x="506" y="328.6" font-size="14.8" font-weight="400" textLength="54.2" lengthAdjust="spacingAndGlyphs">정보마이닝</text>
<text x="517.2" y="343.6" font-size="14.8" font-weight="400" textLength="33.8" lengthAdjust="spacingAndGlyphs">연구실|</text>
<text x="513.2" y="357" font-size="14.8" font-weight="400" textLength="40.6" lengthAdjust="spacingAndGlyphs">(이경순)</text>
<path d="M570.8,359 V282 Q570.8,269.6 583,269.6 H637 Q649.6,269.6 649.6,282 V359" fill="none" stroke="#1a1a1a" stroke-width="1.1"/>
<path d="M573.2,357 V283 Q573.2,272 584,272 H636 Q647.2,272 647.2,283 V357" fill="none" stroke="#1a1a1a" stroke-width="1.1"/>
<path d="M586.7,343 V286.5 H631.6 V343" fill="none" stroke="#1a1a1a" stroke-width="1.1"/>
<line x1="573.2" y1="302" x2="601.8" y2="302" stroke="#1a1a1a" stroke-width="1.0"/>
<line x1="617.4" y1="302" x2="647.2" y2="302" stroke="#1a1a1a" stroke-width="1.0"/>
<line x1="573.2" y1="305.6" x2="601.8" y2="305.6" stroke="#1a1a1a" stroke-width="1.0"/>
<line x1="617.4" y1="305.6" x2="647.2" y2="305.6" stroke="#1a1a1a" stroke-width="1.0"/>
<line x1="573.2" y1="309.1" x2="601.8" y2="309.1" stroke="#1a1a1a" stroke-width="1.0"/>
<line x1="617.4" y1="309.1" x2="647.2" y2="309.1" stroke="#1a1a1a" stroke-width="1.0"/>
<line x1="573.2" y1="312.7" x2="601.8" y2="312.7" stroke="#1a1a1a" stroke-width="1.0"/>
<line x1="617.4" y1="312.7" x2="647.2" y2="312.7" stroke="#1a1a1a" stroke-width="1.0"/>
<line x1="573.2" y1="316.2" x2="601.8" y2="316.2" stroke="#1a1a1a" stroke-width="1.0"/>
<line x1="617.4" y1="316.2" x2="647.2" y2="316.2" stroke="#1a1a1a" stroke-width="1.0"/>
<line x1="573.2" y1="319.8" x2="601.8" y2="319.8" stroke="#1a1a1a" stroke-width="1.0"/>
<line x1="617.4" y1="319.8" x2="647.2" y2="319.8" stroke="#1a1a1a" stroke-width="1.0"/>
<line x1="573.2" y1="323.3" x2="601.8" y2="323.3" stroke="#1a1a1a" stroke-width="1.0"/>
<line x1="617.4" y1="323.3" x2="647.2" y2="323.3" stroke="#1a1a1a" stroke-width="1.0"/>
<line x1="573.2" y1="326.9" x2="601.8" y2="326.9" stroke="#1a1a1a" stroke-width="1.0"/>
<line x1="617.4" y1="326.9" x2="647.2" y2="326.9" stroke="#1a1a1a" stroke-width="1.0"/>
<line x1="573.2" y1="330.4" x2="601.8" y2="330.4" stroke="#1a1a1a" stroke-width="1.0"/>
<line x1="617.4" y1="330.4" x2="647.2" y2="330.4" stroke="#1a1a1a" stroke-width="1.0"/>
<line x1="573.2" y1="334" x2="601.8" y2="334" stroke="#1a1a1a" stroke-width="1.0"/>
<line x1="617.4" y1="334" x2="647.2" y2="334" stroke="#1a1a1a" stroke-width="1.0"/>
<line x1="573.2" y1="337.5" x2="601.8" y2="337.5" stroke="#1a1a1a" stroke-width="1.0"/>
<line x1="617.4" y1="337.5" x2="647.2" y2="337.5" stroke="#1a1a1a" stroke-width="1.0"/>
<line x1="573.2" y1="341.1" x2="601.8" y2="341.1" stroke="#1a1a1a" stroke-width="1.0"/>
<line x1="617.4" y1="341.1" x2="647.2" y2="341.1" stroke="#1a1a1a" stroke-width="1.0"/>
<rect x="601.8" y="300.6" width="15.6" height="41" fill="#fff" stroke="#1a1a1a" stroke-width="1.1"/>
<rect x="603.2" y="302" width="12.8" height="38.2" fill="none" stroke="#1a1a1a" stroke-width="0.9"/>
<line x1="603.2" y1="302" x2="616" y2="340.2" stroke="#1a1a1a" stroke-width="0.9"/>
<line x1="616" y1="302" x2="603.2" y2="340.2" stroke="#1a1a1a" stroke-width="0.9"/>
<line x1="608.4" y1="328.5" x2="654.5" y2="309.8" stroke="#1a1a1a" stroke-width="1.0"/>
<path d="M628.8,313 h5.6 l-2.8,2.2 z M628.8,325 h5.6 l-2.8,-2.2 z" fill="#1a1a1a" stroke="#1a1a1a" stroke-width="0.5"/>
<text x="583" y="348.8" font-size="7" font-weight="700" textLength="9.5" lengthAdjust="spacingAndGlyphs">DN</text>
<text x="627.2" y="348.8" font-size="7" font-weight="700" textLength="9" lengthAdjust="spacingAndGlyphs">UP</text>
<line x1="573.2" y1="357.3" x2="585.5" y2="357.3" stroke="#1a1a1a" stroke-width="1.1"/>
<line x1="573.2" y1="360.3" x2="585.5" y2="360.3" stroke="#1a1a1a" stroke-width="1.1"/>
<line x1="633" y1="357.3" x2="647.2" y2="357.3" stroke="#1a1a1a" stroke-width="1.1"/>
<line x1="633" y1="360.3" x2="647.2" y2="360.3" stroke="#1a1a1a" stroke-width="1.1"/>
<rect x="585.5" y="357.3" width="12" height="3" fill="#fff" stroke="#1a1a1a" stroke-width="1.1"/>
<rect x="621" y="357.3" width="12" height="3" fill="#fff" stroke="#1a1a1a" stroke-width="1.1"/>
<path d="M585.5,357.3 A11.8,11.8 0 0 1 609.1,357.3 A11.8,11.8 0 0 1 632.7,357.3" fill="none" stroke="#1a1a1a" stroke-width="1.1"/>
<line x1="649.6" y1="288.3" x2="739.5" y2="288.3" stroke="#1a1a1a" stroke-width="2.2"/>
<line x1="649.6" y1="357.3" x2="654" y2="357.3" stroke="#1a1a1a" stroke-width="1.1"/>
<line x1="649.6" y1="360.3" x2="654" y2="360.3" stroke="#1a1a1a" stroke-width="1.1"/>
<line x1="675" y1="357.3" x2="725.4" y2="357.3" stroke="#1a1a1a" stroke-width="1.1"/>
<line x1="675" y1="360.3" x2="725.4" y2="360.3" stroke="#1a1a1a" stroke-width="1.1"/>
<line x1="735.3" y1="357.3" x2="740" y2="357.3" stroke="#1a1a1a" stroke-width="1.1"/>
<line x1="735.3" y1="360.3" x2="740" y2="360.3" stroke="#1a1a1a" stroke-width="1.1"/>
<path d="M654,360 V347.4 Q664.5,347.4 664.5,356 Q664.5,347.4 675,347.4 V360" fill="none" stroke="#1a1a1a" stroke-width="1.1"/>
<path d="M725.4,358 Q725.4,347.4 735.3,347.4 V360" fill="none" stroke="#1a1a1a" stroke-width="1.1"/>
<text x="686.4" y="309.6" font-size="18" font-weight="400" textLength="22.4" lengthAdjust="spacingAndGlyphs">507</text>
<text x="657.3" y="332.4" font-size="17" font-weight="400" textLength="67.6" lengthAdjust="spacingAndGlyphs">IT융합연구센터</text>
<line x1="646.2" y1="360" x2="646.2" y2="375.4" stroke="#1a1a1a" stroke-width="1.1"/>
<line x1="649.8" y1="360" x2="649.8" y2="375.4" stroke="#1a1a1a" stroke-width="1.1"/>
<line x1="646.2" y1="375.4" x2="649.8" y2="375.4" stroke="#1a1a1a" stroke-width="1.1"/>
<path d="M740,359 V283 Q740,269.6 753,269.6 H805 Q818.6,269.6 818.6,283 V290" fill="none" stroke="#1a1a1a" stroke-width="1.1"/>
<path d="M742.4,357 V284 Q742.4,272 754,272 H804 Q816.2,272 816.2,284 V290" fill="none" stroke="#1a1a1a" stroke-width="1.1"/>
<line x1="751" y1="270.6" x2="808" y2="270.6" stroke="#1a1a1a" stroke-width="1.6"/>
<line x1="763.2" y1="272" x2="763.2" y2="327" stroke="#1a1a1a" stroke-width="1.1"/>
<line x1="777.3" y1="272" x2="777.3" y2="340" stroke="#1a1a1a" stroke-width="1.1"/>
<line x1="780.9" y1="272" x2="780.9" y2="340" stroke="#1a1a1a" stroke-width="1.1"/>
<line x1="795" y1="272" x2="795" y2="327" stroke="#1a1a1a" stroke-width="1.1"/>
<path d="M763.8,273.0 l6.5,3 l-5.5,3.2 l5.5,3.2 l-6.5,3 M763.2,285.8 H777.3" fill="none" stroke="#1a1a1a" stroke-width="1.0"/>
<path d="M794.4,273.0 l-6.5,3 l5.5,3.2 l-5.5,3.2 l6.5,3 M795,285.8 H780.9" fill="none" stroke="#1a1a1a" stroke-width="1.0"/>
<path d="M763.8,286.2 l6.5,3 l-5.5,3.2 l5.5,3.2 l-6.5,3 M763.2,299.0 H777.3" fill="none" stroke="#1a1a1a" stroke-width="1.0"/>
<path d="M794.4,286.2 l-6.5,3 l5.5,3.2 l-5.5,3.2 l6.5,3 M795,299.0 H780.9" fill="none" stroke="#1a1a1a" stroke-width="1.0"/>
<path d="M763.8,299.4 l6.5,3 l-5.5,3.2 l5.5,3.2 l-6.5,3 M763.2,312.2 H777.3" fill="none" stroke="#1a1a1a" stroke-width="1.0"/>
<path d="M794.4,299.4 l-6.5,3 l5.5,3.2 l-5.5,3.2 l6.5,3 M795,312.2 H780.9" fill="none" stroke="#1a1a1a" stroke-width="1.0"/>
<path d="M763.8,312.6 l6.5,3 l-5.5,3.2 l5.5,3.2 l-6.5,3 M763.2,325.4 H777.3" fill="none" stroke="#1a1a1a" stroke-width="1.0"/>
<path d="M794.4,312.6 l-6.5,3 l5.5,3.2 l-5.5,3.2 l6.5,3 M795,325.4 H780.9" fill="none" stroke="#1a1a1a" stroke-width="1.0"/>
<path d="M763.8,325.8 l6.5,3 l-5.5,3.2 l5.5,3.2 l-6.5,3 M763.2,338.6 H777.3" fill="none" stroke="#1a1a1a" stroke-width="1.0"/>
<path d="M794.4,325.8 l-6.5,3 l5.5,3.2 l-5.5,3.2 l6.5,3 M795,338.6 H780.9" fill="none" stroke="#1a1a1a" stroke-width="1.0"/>
<rect x="763.6" y="327.3" width="13.7" height="12" fill="none" stroke="#1a1a1a" stroke-width="1.1"/>
<line x1="763.6" y1="327.3" x2="777.3" y2="339.3" stroke="#1a1a1a" stroke-width="1.0"/>
<line x1="777.3" y1="327.3" x2="763.6" y2="339.3" stroke="#1a1a1a" stroke-width="1.0"/>
<text x="742.8" y="330.9" font-size="12" font-weight="400" textLength="20.2" lengthAdjust="spacingAndGlyphs" style='font-family:"Liberation Serif","Noto Serif CJK KR",serif;fill:#333'>W C</text>
<text x="743.5" y="347.6" font-size="13" font-weight="400" textLength="24" lengthAdjust="spacingAndGlyphs" style='font-family:"Liberation Serif","Noto Serif CJK KR",serif;fill:#444'>남 자</text>
<text x="797" y="330.9" font-size="12" font-weight="400" textLength="21.3" lengthAdjust="spacingAndGlyphs" style='font-family:"Liberation Serif","Noto Serif CJK KR",serif;fill:#333'>W C</text>
<text x="797.5" y="347.6" font-size="13" font-weight="400" textLength="21" lengthAdjust="spacingAndGlyphs" style='font-family:"Liberation Serif","Noto Serif CJK KR",serif;fill:#444'>여자</text>
<path d="M742.4,357.3 H761 V347 H763.2" fill="none" stroke="#1a1a1a" stroke-width="1.1"/>
<path d="M740,360.3 H763.5" fill="none" stroke="#1a1a1a" stroke-width="1.1"/>
<path d="M816.2,357.3 H797 V347 H795" fill="none" stroke="#1a1a1a" stroke-width="1.1"/>
<path d="M818.6,360.3 H795" fill="none" stroke="#1a1a1a" stroke-width="1.1"/>
<g><rect x="774" y="342.5" width="9" height="12" rx="3" fill="#cfeef0" stroke="#9fd3d3" stroke-width="0.6"/><rect x="772.6" y="354.5" width="11.8" height="14" rx="1.2" fill="#e8fbf8" stroke="#7fd0c0" stroke-width="0.9"/><rect x="775.5" y="361.5" width="1.6" height="3" fill="#2a8"/><rect x="779.6" y="361.5" width="1.6" height="3" fill="#d44"/></g>
<line x1="818" y1="288.6" x2="1038" y2="288.6" stroke="#1a1a1a" stroke-width="2.2"/>
<line x1="817.8" y1="284" x2="817.8" y2="373" stroke="#1a1a1a" stroke-width="1.1"/>
<line x1="937.9" y1="289" x2="937.9" y2="372" stroke="#1a1a1a" stroke-width="1.1"/>
<line x1="941.1" y1="289" x2="941.1" y2="372" stroke="#1a1a1a" stroke-width="1.1"/>
<line x1="1036.6" y1="289" x2="1036.6" y2="372" stroke="#1a1a1a" stroke-width="1.1"/>
<line x1="1039" y1="289" x2="1039" y2="372" stroke="#1a1a1a" stroke-width="1.1"/>
<line x1="818" y1="370.8" x2="848.9" y2="370.8" stroke="#1a1a1a" stroke-width="1.1"/>
<line x1="818" y1="373.2" x2="848.9" y2="373.2" stroke="#1a1a1a" stroke-width="1.1"/>
<line x1="858.6" y1="370.8" x2="912.9" y2="370.8" stroke="#1a1a1a" stroke-width="1.1"/>
<line x1="858.6" y1="373.2" x2="912.9" y2="373.2" stroke="#1a1a1a" stroke-width="1.1"/>
<line x1="933" y1="370.8" x2="947.6" y2="370.8" stroke="#1a1a1a" stroke-width="1.1"/>
<line x1="933" y1="373.2" x2="947.6" y2="373.2" stroke="#1a1a1a" stroke-width="1.1"/>
<line x1="968.2" y1="370.8" x2="1022" y2="370.8" stroke="#1a1a1a" stroke-width="1.1"/>
<line x1="968.2" y1="373.2" x2="1022" y2="373.2" stroke="#1a1a1a" stroke-width="1.1"/>
<line x1="1032.7" y1="370.8" x2="1038" y2="370.8" stroke="#1a1a1a" stroke-width="1.1"/>
<line x1="1032.7" y1="373.2" x2="1038" y2="373.2" stroke="#1a1a1a" stroke-width="1.1"/>
<path d="M848.9,372 V360.5 Q858.6,360.5 858.6,371" fill="none" stroke="#1a1a1a" stroke-width="1.1"/>
<path d="M912.9,372 V360.5 Q923,360.5 923,368 Q923,360.5 933,360.5 V372" fill="none" stroke="#1a1a1a" stroke-width="1.1"/>
<path d="M947.6,372 V360.5 Q957.9,360.5 957.9,368 Q957.9,360.5 968.2,360.5 V372" fill="none" stroke="#1a1a1a" stroke-width="1.1"/>
<path d="M1032.7,372 V360.5 Q1022,360.5 1022,371" fill="none" stroke="#1a1a1a" stroke-width="1.1"/>
<rect x="839.1" y="282.3" width="5.8" height="5.8" fill="#fff" stroke="#1a1a1a" stroke-width="1"/>
<rect x="937" y="282.3" width="5.8" height="5.8" fill="#fff" stroke="#1a1a1a" stroke-width="1"/>
<rect x="1035.7" y="282.3" width="5.8" height="5.8" fill="#fff" stroke="#1a1a1a" stroke-width="1"/>
<rect x="839.1" y="365.9" width="5.8" height="5.8" fill="#fff" stroke="#1a1a1a" stroke-width="1"/>
<rect x="937" y="365.9" width="5.8" height="5.8" fill="#fff" stroke="#1a1a1a" stroke-width="1"/>
<rect x="1034.7" y="365.9" width="5.8" height="5.8" fill="#fff" stroke="#1a1a1a" stroke-width="1"/>
<text x="868" y="311.6" font-size="18" font-weight="400" textLength="23.7" lengthAdjust="spacingAndGlyphs">508</text>
<text x="842.5" y="329.8" font-size="16.4" font-weight="400" textLength="73.7" lengthAdjust="spacingAndGlyphs">무선통신신호</text>
<text x="848.4" y="347" font-size="16.4" font-weight="400" textLength="61.5" lengthAdjust="spacingAndGlyphs">처리연구실</text>
<text x="857.4" y="361.2" font-size="16.4" font-weight="400" textLength="45.4" lengthAdjust="spacingAndGlyphs">(박석환)</text>
<text x="972.5" y="315.9" font-size="18" font-weight="400" textLength="23.5" lengthAdjust="spacingAndGlyphs">509</text>
<text x="939.4" y="339.6" font-size="18.4" font-weight="400" textLength="101.1" lengthAdjust="spacingAndGlyphs">초고주파 회로설계</text>
<text x="947.6" y="359.2" font-size="18.4" font-weight="400" textLength="85.1" lengthAdjust="spacingAndGlyphs">연구실(정용채)</text>
<line x1="1040" y1="288" x2="1056.6" y2="268.7" stroke="#1a1a1a" stroke-width="1.0"/>
<path d="M1125.1,315.5 L1096.5,348.5 L1040,371.5" fill="none" stroke="#444" stroke-width="0.8"/>
<line x1="254" y1="400.6" x2="262.3" y2="400.6" stroke="#1a1a1a" stroke-width="1.1"/>
<line x1="254" y1="402.4" x2="262.3" y2="402.4" stroke="#1a1a1a" stroke-width="1.1"/>
<line x1="273.3" y1="400.6" x2="336.1" y2="400.6" stroke="#1a1a1a" stroke-width="1.1"/>
<line x1="273.3" y1="402.4" x2="336.1" y2="402.4" stroke="#1a1a1a" stroke-width="1.1"/>
<line x1="346.9" y1="400.6" x2="358.4" y2="400.6" stroke="#1a1a1a" stroke-width="1.1"/>
<line x1="346.9" y1="402.4" x2="358.4" y2="402.4" stroke="#1a1a1a" stroke-width="1.1"/>
<line x1="369.9" y1="400.6" x2="435.4" y2="400.6" stroke="#1a1a1a" stroke-width="1.1"/>
<line x1="369.9" y1="402.4" x2="435.4" y2="402.4" stroke="#1a1a1a" stroke-width="1.1"/>
<line x1="444.6" y1="400.6" x2="457.2" y2="400.6" stroke="#1a1a1a" stroke-width="1.1"/>
<line x1="444.6" y1="402.4" x2="457.2" y2="402.4" stroke="#1a1a1a" stroke-width="1.1"/>
<line x1="468.7" y1="400.6" x2="533.2" y2="400.6" stroke="#1a1a1a" stroke-width="1.1"/>
<line x1="468.7" y1="402.4" x2="533.2" y2="402.4" stroke="#1a1a1a" stroke-width="1.1"/>
<line x1="543.1" y1="400.6" x2="556.2" y2="400.6" stroke="#1a1a1a" stroke-width="1.1"/>
<line x1="543.1" y1="402.4" x2="556.2" y2="402.4" stroke="#1a1a1a" stroke-width="1.1"/>
<line x1="566.6" y1="400.6" x2="632.1" y2="400.6" stroke="#1a1a1a" stroke-width="1.1"/>
<line x1="566.6" y1="402.4" x2="632.1" y2="402.4" stroke="#1a1a1a" stroke-width="1.1"/>
<line x1="641.3" y1="400.6" x2="648" y2="400.6" stroke="#1a1a1a" stroke-width="1.1"/>
<line x1="641.3" y1="402.4" x2="648" y2="402.4" stroke="#1a1a1a" stroke-width="1.1"/>
<path d="M262.3,401 V412.6 Q273.3,412.6 273.3,402" fill="none" stroke="#1a1a1a" stroke-width="1.1"/>
<path d="M346.9,401 V412.6 Q336.1,412.6 336.1,402" fill="none" stroke="#1a1a1a" stroke-width="1.1"/>
<path d="M358.4,401 V412.6 Q369.9,412.6 369.9,402" fill="none" stroke="#1a1a1a" stroke-width="1.1"/>
<path d="M444.6,401 V412.6 Q435.4,412.6 435.4,402" fill="none" stroke="#1a1a1a" stroke-width="1.1"/>
<path d="M457.2,401 V412.6 Q468.7,412.6 468.7,402" fill="none" stroke="#1a1a1a" stroke-width="1.1"/>
<path d="M543.1,401 V412.6 Q533.2,412.6 533.2,402" fill="none" stroke="#1a1a1a" stroke-width="1.1"/>
<path d="M556.2,401 V412.6 Q566.6,412.6 566.6,402" fill="none" stroke="#1a1a1a" stroke-width="1.1"/>
<path d="M641.3,401 V412.6 Q632.1,412.6 632.1,402" fill="none" stroke="#1a1a1a" stroke-width="1.1"/>
<line x1="302.6" y1="402" x2="302.6" y2="469" stroke="#1a1a1a" stroke-width="1.1"/>
<line x1="305.4" y1="402" x2="305.4" y2="469" stroke="#1a1a1a" stroke-width="1.1"/>
<line x1="351.6" y1="402" x2="351.6" y2="469" stroke="#1a1a1a" stroke-width="1.1"/>
<line x1="354.4" y1="402" x2="354.4" y2="469" stroke="#1a1a1a" stroke-width="1.1"/>
<line x1="400.5" y1="402" x2="400.5" y2="469" stroke="#1a1a1a" stroke-width="1.1"/>
<line x1="403.3" y1="402" x2="403.3" y2="469" stroke="#1a1a1a" stroke-width="1.1"/>
<line x1="450.1" y1="402" x2="450.1" y2="469" stroke="#1a1a1a" stroke-width="1.1"/>
<line x1="452.9" y1="402" x2="452.9" y2="469" stroke="#1a1a1a" stroke-width="1.1"/>
<line x1="498.7" y1="402" x2="498.7" y2="469" stroke="#1a1a1a" stroke-width="1.1"/>
<line x1="501.5" y1="402" x2="501.5" y2="469" stroke="#1a1a1a" stroke-width="1.1"/>
<line x1="547.9" y1="402" x2="547.9" y2="469" stroke="#1a1a1a" stroke-width="1.1"/>
<line x1="550.7" y1="402" x2="550.7" y2="469" stroke="#1a1a1a" stroke-width="1.1"/>
<line x1="597.1" y1="402" x2="597.1" y2="469" stroke="#1a1a1a" stroke-width="1.1"/>
<line x1="599.9" y1="402" x2="599.9" y2="469" stroke="#1a1a1a" stroke-width="1.1"/>
<line x1="270" y1="468.6" x2="631" y2="468.6" stroke="#1a1a1a" stroke-width="1.1"/>
<line x1="270" y1="470.6" x2="631" y2="470.6" stroke="#1a1a1a" stroke-width="1.2"/>
<path d="M252.2,404 V456 Q252.2,470.6 270,470.6" fill="none" stroke="#1a1a1a" stroke-width="1.1"/>
<path d="M254.4,404 V455 Q254.4,468.6 270,468.6" fill="none" stroke="#1a1a1a" stroke-width="1.1"/>
<path d="M650.6,404 V453 Q650.6,473 631,473" fill="none" stroke="#1a1a1a" stroke-width="1.1"/>
<path d="M648.3,404 V453 Q648.3,470.6 631,470.6" fill="none" stroke="#1a1a1a" stroke-width="1.1"/>
<rect x="250" y="400.4" width="6.6" height="6.6" fill="#fff" stroke="#1a1a1a" stroke-width="1"/>
<rect x="448.2" y="401.1" width="6.6" height="6.6" fill="#fff" stroke="#1a1a1a" stroke-width="1"/>
<rect x="546.5" y="401.3" width="6.6" height="6.6" fill="#fff" stroke="#1a1a1a" stroke-width="1"/>
<rect x="643.5" y="400.4" width="6.6" height="6.6" fill="#fff" stroke="#1a1a1a" stroke-width="1"/>
<rect x="349.6" y="469.7" width="6" height="6" fill="#fff" stroke="#1a1a1a" stroke-width="1"/>
<rect x="448.5" y="469.7" width="6" height="6" fill="#fff" stroke="#1a1a1a" stroke-width="1"/>
<rect x="546.3" y="469.7" width="6" height="6" fill="#fff" stroke="#1a1a1a" stroke-width="1"/>
<text x="268" y="425.6" font-size="18" font-weight="400" textLength="23" lengthAdjust="spacingAndGlyphs">532</text>
<text x="254.9" y="442.8" font-size="16.4" font-weight="400" textLength="40.3" lengthAdjust="spacingAndGlyphs">교수연구실</text>
<text x="260.2" y="461.4" font-size="16.4" font-weight="400" textLength="29.9" lengthAdjust="spacingAndGlyphs">(김종익)</text>
<text x="321.6" y="425.6" font-size="18" font-weight="400" textLength="22" lengthAdjust="spacingAndGlyphs">531</text>
<text x="307.8" y="445.2" font-size="16.4" font-weight="400" textLength="43" lengthAdjust="spacingAndGlyphs">교수연구실</text>
<text x="313.6" y="463.8" font-size="16.4" font-weight="400" textLength="32.1" lengthAdjust="spacingAndGlyphs">(편기현)</text>
<text x="367.6" y="422.8" font-size="18" font-weight="400" textLength="23.7" lengthAdjust="spacingAndGlyphs">530</text>
<text x="359.5" y="442.2" font-size="16.4" font-weight="400" textLength="38.7" lengthAdjust="spacingAndGlyphs">교수연구실</text>
<text x="364.8" y="460.8" font-size="16.4" font-weight="400" textLength="28.1" lengthAdjust="spacingAndGlyphs">(이종득)</text>
<text x="416.6" y="422.8" font-size="18" font-weight="400" textLength="23.4" lengthAdjust="spacingAndGlyphs">529</text>
<text x="409" y="442.8" font-size="16.4" font-weight="700" textLength="34.4" lengthAdjust="spacingAndGlyphs">교수연구실</text>
<text x="412.9" y="461.4" font-size="16.4" font-weight="500" textLength="26.2" lengthAdjust="spacingAndGlyphs">(김수영)</text>
<text x="461.8" y="422.8" font-size="18" font-weight="400" textLength="23.6" lengthAdjust="spacingAndGlyphs">528</text>
<text x="457.7" y="442.8" font-size="16.4" font-weight="700" textLength="35.6" lengthAdjust="spacingAndGlyphs">교수연구실</text>
<text x="462.3" y="461.4" font-size="16.4" font-weight="500" textLength="26.7" lengthAdjust="spacingAndGlyphs">(조성익)</text>
<text x="514.1" y="424.4" font-size="18" font-weight="400" textLength="23.7" lengthAdjust="spacingAndGlyphs">527</text>
<text x="508.6" y="442.8" font-size="16.4" font-weight="700" textLength="33.8" lengthAdjust="spacingAndGlyphs">교수연구실</text>
<text x="512.5" y="461.4" font-size="16.4" font-weight="500" textLength="26" lengthAdjust="spacingAndGlyphs">(이경순)</text>
<text x="613" y="422.8" font-size="18" font-weight="400" textLength="23" lengthAdjust="spacingAndGlyphs">525</text>
<text x="605.6" y="442.8" font-size="16.4" font-weight="700" textLength="33.4" lengthAdjust="spacingAndGlyphs">교수연구실</text>
<text x="610.2" y="461.4" font-size="16.4" font-weight="500" textLength="24.8" lengthAdjust="spacingAndGlyphs">(김항란)</text>
<text x="558.5" y="419.8" font-size="18" font-weight="400" textLength="23.5" lengthAdjust="spacingAndGlyphs">526</text>
<text x="563.1" y="432.6" font-size="12.6" font-weight="400" textLength="19.1" lengthAdjust="spacingAndGlyphs">정보</text>
<text x="555.5" y="442.6" font-size="12.6" font-weight="400" textLength="32.2" lengthAdjust="spacingAndGlyphs">마이닝</text>
<text x="553.9" y="451.8" font-size="12.6" font-weight="400" textLength="40.2" lengthAdjust="spacingAndGlyphs">연구실2</text>
<text x="552.3" y="462.4" font-size="14" font-weight="400" textLength="41.4" lengthAdjust="spacingAndGlyphs">(이경순)</text>
<line x1="682.6" y1="398.9" x2="725.3" y2="398.9" stroke="#1a1a1a" stroke-width="1.8"/>
<path d="M725.3,399 Q725.3,410.6 735.6,410.6 V398" fill="none" stroke="#1a1a1a" stroke-width="1.1"/>
<line x1="735.6" y1="398.9" x2="742" y2="398.9" stroke="#1a1a1a" stroke-width="1.8"/>
<line x1="652.8" y1="444.9" x2="740" y2="444.9" stroke="#1a1a1a" stroke-width="2.0"/>
<path d="M653.9,410.6 Q663.1,410.6 663.1,402" fill="none" stroke="#1a1a1a" stroke-width="1.1"/>
<line x1="650.6" y1="402" x2="653.9" y2="410.6" stroke="#1a1a1a" stroke-width="1.1"/>
<path d="M645.6,375.4 L636.8,378 Q636,385 642.7,387.4 L636.4,389.6 Q635,396.4 641.6,399.6" fill="none" stroke="#1a1a1a" stroke-width="1.1"/>
<line x1="740" y1="398.9" x2="749.4" y2="398.9" stroke="#1a1a1a" stroke-width="1.8"/>
<line x1="760.2" y1="398.9" x2="814.3" y2="398.9" stroke="#1a1a1a" stroke-width="1.8"/>
<line x1="834.5" y1="398.9" x2="849.4" y2="398.9" stroke="#1a1a1a" stroke-width="1.8"/>
<line x1="859.8" y1="398.9" x2="912.6" y2="398.9" stroke="#1a1a1a" stroke-width="1.8"/>
<line x1="933.3" y1="398.9" x2="940" y2="398.9" stroke="#1a1a1a" stroke-width="1.8"/>
<path d="M749.4,399 V410.6 Q760.2,410.6 760.2,399.5" fill="none" stroke="#1a1a1a" stroke-width="1.1"/>
<path d="M814.3,399 V411 Q824.4,411 824.4,404 Q824.4,411 834.5,411 V399" fill="none" stroke="#1a1a1a" stroke-width="1.1"/>
<path d="M849.4,399 V410.6 Q859.8,410.6 859.8,399.5" fill="none" stroke="#1a1a1a" stroke-width="1.1"/>
<path d="M912.6,399 V411 Q923,411 923,404 Q923,411 933.3,411 V399" fill="none" stroke="#1a1a1a" stroke-width="1.1"/>
<line x1="839.9" y1="399" x2="839.9" y2="468" stroke="#1a1a1a" stroke-width="1.1"/>
<line x1="842.9" y1="399" x2="842.9" y2="468" stroke="#1a1a1a" stroke-width="1.1"/>
<path d="M739.6,402 V455 Q739.6,471.6 757,471.6" fill="none" stroke="#1a1a1a" stroke-width="1.1"/>
<path d="M741.9,402 V455 Q741.9,469.2 757,469.2" fill="none" stroke="#1a1a1a" stroke-width="1.1"/>
<line x1="778" y1="468" x2="940" y2="468" stroke="#1a1a1a" stroke-width="1.8"/>
<rect x="740.4" y="398.8" width="6.6" height="6.6" fill="#fff" stroke="#1a1a1a" stroke-width="1"/>
<rect x="837.6" y="398.8" width="6.6" height="6.6" fill="#fff" stroke="#1a1a1a" stroke-width="1"/>
<rect x="839" y="466.7" width="6" height="6" fill="#fff" stroke="#1a1a1a" stroke-width="1"/>
<text x="774.7" y="418.7" font-size="18" font-weight="400" textLength="24.2" lengthAdjust="spacingAndGlyphs">524</text>
<text x="756.3" y="438" font-size="18" font-weight="400" textLength="74.3" lengthAdjust="spacingAndGlyphs">광공학연구실</text>
<text x="770.8" y="456.4" font-size="18" font-weight="400" textLength="46.4" lengthAdjust="spacingAndGlyphs">(송민호)</text>
<text x="868.5" y="418.7" font-size="18" font-weight="400" textLength="23.5" lengthAdjust="spacingAndGlyphs">523</text>
<text x="850.6" y="438" font-size="18" font-weight="400" textLength="73.5" lengthAdjust="spacingAndGlyphs">대학원강의실</text>
<text x="871.3" y="456.4" font-size="18" font-weight="400" textLength="33.3" lengthAdjust="spacingAndGlyphs">(전자)</text>
<line x1="940" y1="398.9" x2="945.7" y2="398.9" stroke="#1a1a1a" stroke-width="1.8"/>
<line x1="956" y1="398.9" x2="1021.6" y2="398.9" stroke="#1a1a1a" stroke-width="1.8"/>
<line x1="1031.9" y1="398.9" x2="1044.5" y2="398.9" stroke="#1a1a1a" stroke-width="1.8"/>
<line x1="1054.9" y1="398.9" x2="1119.3" y2="398.9" stroke="#1a1a1a" stroke-width="1.8"/>
<line x1="1129.6" y1="398.9" x2="1138" y2="398.9" stroke="#1a1a1a" stroke-width="1.8"/>
<path d="M945.7,399 V410.6 Q956,410.6 956,399.5" fill="none" stroke="#1a1a1a" stroke-width="1.1"/>
<path d="M1031.9,399 V410.6 Q1021.6,410.6 1021.6,399.5" fill="none" stroke="#1a1a1a" stroke-width="1.1"/>
<path d="M1044.5,399 V410.6 Q1054.9,410.6 1054.9,399.5" fill="none" stroke="#1a1a1a" stroke-width="1.1"/>
<path d="M1129.6,399 V410.6 Q1119.3,410.6 1119.3,399.5" fill="none" stroke="#1a1a1a" stroke-width="1.1"/>
<line x1="938.3" y1="399" x2="938.3" y2="468" stroke="#1a1a1a" stroke-width="1.1"/>
<line x1="941.1" y1="399" x2="941.1" y2="468" stroke="#1a1a1a" stroke-width="1.1"/>
<line x1="987.6" y1="399" x2="987.6" y2="468" stroke="#1a1a1a" stroke-width="1.1"/>
<line x1="990.4" y1="399" x2="990.4" y2="468" stroke="#1a1a1a" stroke-width="1.1"/>
<line x1="1036.5" y1="399" x2="1036.5" y2="468" stroke="#1a1a1a" stroke-width="1.1"/>
<line x1="1039.3" y1="399" x2="1039.3" y2="468" stroke="#1a1a1a" stroke-width="1.1"/>
<line x1="1085.5" y1="399" x2="1085.5" y2="468" stroke="#1a1a1a" stroke-width="1.1"/>
<line x1="1088.3" y1="399" x2="1088.3" y2="468" stroke="#1a1a1a" stroke-width="1.1"/>
<line x1="940" y1="468" x2="1123" y2="468" stroke="#1a1a1a" stroke-width="1.8"/>
<path d="M1139.6,454 Q1139.6,470 1127,470" fill="none" stroke="#1a1a1a" stroke-width="1.1"/>
<path d="M1137.4,402 V454 Q1137.4,467.6 1123,467.6" fill="none" stroke="#1a1a1a" stroke-width="1.1"/>
<rect x="936.7" y="398.8" width="6.6" height="6.6" fill="#fff" stroke="#1a1a1a" stroke-width="1"/>
<rect x="1034.3" y="398.8" width="6.6" height="6.6" fill="#fff" stroke="#1a1a1a" stroke-width="1"/>
<rect x="1132" y="398.8" width="6.6" height="6.6" fill="#fff" stroke="#1a1a1a" stroke-width="1"/>
<rect x="937" y="466.7" width="6" height="6" fill="#fff" stroke="#1a1a1a" stroke-width="1"/>
<rect x="1034.6" y="466.7" width="6" height="6" fill="#fff" stroke="#1a1a1a" stroke-width="1"/>
<text x="955.6" y="418.7" font-size="18" font-weight="400" textLength="23.4" lengthAdjust="spacingAndGlyphs">522</text>
<text x="954.4" y="443" font-size="17" font-weight="400" textLength="23.9" lengthAdjust="spacingAndGlyphs">공실</text>
<text x="996.3" y="418.7" font-size="18" font-weight="400" textLength="22.5" lengthAdjust="spacingAndGlyphs">521</text>
<text x="998.1" y="443.2" font-size="16.4" font-weight="700" textLength="34.5" lengthAdjust="spacingAndGlyphs">대학원연구실</text>
<text x="1004.3" y="462.4" font-size="17.5" font-weight="500" textLength="21.8" lengthAdjust="spacingAndGlyphs">(이지훈)</text>
<text x="1053.7" y="418.7" font-size="18" font-weight="400" textLength="23.5" lengthAdjust="spacingAndGlyphs">520</text>
<text x="1045.7" y="443.2" font-size="16.4" font-weight="700" textLength="34.5" lengthAdjust="spacingAndGlyphs">교수연구실</text>
<text x="1049.8" y="462.4" font-size="17.5" font-weight="500" textLength="25.8" lengthAdjust="spacingAndGlyphs">(정진균)</text>
<text x="1095.6" y="418.7" font-size="18" font-weight="400" textLength="23" lengthAdjust="spacingAndGlyphs">519</text>
<text x="1094" y="443.2" font-size="16.4" font-weight="700" textLength="37.4" lengthAdjust="spacingAndGlyphs">연구용실험실</text>
<text x="1100.9" y="462.4" font-size="17.5" font-weight="500" textLength="23" lengthAdjust="spacingAndGlyphs">(이지훈)</text>
<path d="M1191,360.5 A47,47 0 0 1 1139,399.6" fill="none" stroke="#1a1a1a" stroke-width="1.1"/>
<path d="M1193.2,361 A49,49 0 0 1 1139,401.8" fill="none" stroke="#1a1a1a" stroke-width="1.1"/>
<g transform="translate(346,388.8)"><rect width="20.3" height="20.3" rx="2.3" fill="#f6142c"/><rect x="7.3" y="5.4" width="6" height="13.2" rx="1.6" fill="#fff4f5"/><rect x="8.9" y="3.4" width="2.9" height="2.4" fill="#fff4f5"/><path d="M9.2,3.3 L5.3,2.3 L5.5,3.7 L9.2,4.7 Z" fill="#fff4f5"/><path d="M11.8,4.4 Q15.4,4.6 15,9 L15.6,14" stroke="#fff4f5" stroke-width="1" fill="none"/><path d="M15,13.3 L18.7,17 L16.7,18.7 L14.3,14.2 Z" fill="#fff4f5"/><path d="M7.3,10.2 h6 M7.3,12.6 h6 M7.3,16.9 h6" stroke="#f88a95" stroke-width="0.7"/><rect x="8.6" y="10.8" width="3.4" height="1.3" fill="#f88a95"/></g>
<g transform="translate(662.6,384.3)"><rect width="20.3" height="20.3" rx="2.3" fill="#f6142c"/><rect x="7.3" y="5.4" width="6" height="13.2" rx="1.6" fill="#fff4f5"/><rect x="8.9" y="3.4" width="2.9" height="2.4" fill="#fff4f5"/><path d="M9.2,3.3 L5.3,2.3 L5.5,3.7 L9.2,4.7 Z" fill="#fff4f5"/><path d="M11.8,4.4 Q15.4,4.6 15,9 L15.6,14" stroke="#fff4f5" stroke-width="1" fill="none"/><path d="M15,13.3 L18.7,17 L16.7,18.7 L14.3,14.2 Z" fill="#fff4f5"/><path d="M7.3,10.2 h6 M7.3,12.6 h6 M7.3,16.9 h6" stroke="#f88a95" stroke-width="0.7"/><rect x="8.6" y="10.8" width="3.4" height="1.3" fill="#f88a95"/></g>
<g transform="translate(953.8,384.3)"><rect width="20.3" height="20.3" rx="2.3" fill="#f6142c"/><rect x="7.3" y="5.4" width="6" height="13.2" rx="1.6" fill="#fff4f5"/><rect x="8.9" y="3.4" width="2.9" height="2.4" fill="#fff4f5"/><path d="M9.2,3.3 L5.3,2.3 L5.5,3.7 L9.2,4.7 Z" fill="#fff4f5"/><path d="M11.8,4.4 Q15.4,4.6 15,9 L15.6,14" stroke="#fff4f5" stroke-width="1" fill="none"/><path d="M15,13.3 L18.7,17 L16.7,18.7 L14.3,14.2 Z" fill="#fff4f5"/><path d="M7.3,10.2 h6 M7.3,12.6 h6 M7.3,16.9 h6" stroke="#f88a95" stroke-width="0.7"/><rect x="8.6" y="10.8" width="3.4" height="1.3" fill="#f88a95"/></g>
<g transform="translate(1149.2,299.3)"><rect width="20.3" height="20.3" rx="2.3" fill="#f6142c"/><rect x="7.3" y="5.4" width="6" height="13.2" rx="1.6" fill="#fff4f5"/><rect x="8.9" y="3.4" width="2.9" height="2.4" fill="#fff4f5"/><path d="M9.2,3.3 L5.3,2.3 L5.5,3.7 L9.2,4.7 Z" fill="#fff4f5"/><path d="M11.8,4.4 Q15.4,4.6 15,9 L15.6,14" stroke="#fff4f5" stroke-width="1" fill="none"/><path d="M15,13.3 L18.7,17 L16.7,18.7 L14.3,14.2 Z" fill="#fff4f5"/><path d="M7.3,10.2 h6 M7.3,12.6 h6 M7.3,16.9 h6" stroke="#f88a95" stroke-width="0.7"/><rect x="8.6" y="10.8" width="3.4" height="1.3" fill="#f88a95"/></g>
<g transform="translate(63.2,71.8)"><rect width="20.3" height="20.3" rx="2.3" fill="#f6142c"/><rect x="7.3" y="5.4" width="6" height="13.2" rx="1.6" fill="#fff4f5"/><rect x="8.9" y="3.4" width="2.9" height="2.4" fill="#fff4f5"/><path d="M9.2,3.3 L5.3,2.3 L5.5,3.7 L9.2,4.7 Z" fill="#fff4f5"/><path d="M11.8,4.4 Q15.4,4.6 15,9 L15.6,14" stroke="#fff4f5" stroke-width="1" fill="none"/><path d="M15,13.3 L18.7,17 L16.7,18.7 L14.3,14.2 Z" fill="#fff4f5"/><path d="M7.3,10.2 h6 M7.3,12.6 h6 M7.3,16.9 h6" stroke="#f88a95" stroke-width="0.7"/><rect x="8.6" y="10.8" width="3.4" height="1.3" fill="#f88a95"/></g>
<g transform="translate(86.2,89.4)"><rect width="20.3" height="20.3" rx="2.3" fill="#f6142c"/><rect x="7.3" y="5.4" width="6" height="13.2" rx="1.6" fill="#fff4f5"/><rect x="8.9" y="3.4" width="2.9" height="2.4" fill="#fff4f5"/><path d="M9.2,3.3 L5.3,2.3 L5.5,3.7 L9.2,4.7 Z" fill="#fff4f5"/><path d="M11.8,4.4 Q15.4,4.6 15,9 L15.6,14" stroke="#fff4f5" stroke-width="1" fill="none"/><path d="M15,13.3 L18.7,17 L16.7,18.7 L14.3,14.2 Z" fill="#fff4f5"/><path d="M7.3,10.2 h6 M7.3,12.6 h6 M7.3,16.9 h6" stroke="#f88a95" stroke-width="0.7"/><rect x="8.6" y="10.8" width="3.4" height="1.3" fill="#f88a95"/></g>
<g transform="translate(235.4,318)"><rect width="20.3" height="20.3" rx="2.3" fill="#f6142c"/><rect x="7.3" y="5.4" width="6" height="13.2" rx="1.6" fill="#fff4f5"/><rect x="8.9" y="3.4" width="2.9" height="2.4" fill="#fff4f5"/><path d="M9.2,3.3 L5.3,2.3 L5.5,3.7 L9.2,4.7 Z" fill="#fff4f5"/><path d="M11.8,4.4 Q15.4,4.6 15,9 L15.6,14" stroke="#fff4f5" stroke-width="1" fill="none"/><path d="M15,13.3 L18.7,17 L16.7,18.7 L14.3,14.2 Z" fill="#fff4f5"/><path d="M7.3,10.2 h6 M7.3,12.6 h6 M7.3,16.9 h6" stroke="#f88a95" stroke-width="0.7"/><rect x="8.6" y="10.8" width="3.4" height="1.3" fill="#f88a95"/></g>
<g transform="translate(1284,63)"><rect width="20.3" height="20.3" rx="2.3" fill="#f6142c"/><rect x="7.3" y="5.4" width="6" height="13.2" rx="1.6" fill="#fff4f5"/><rect x="8.9" y="3.4" width="2.9" height="2.4" fill="#fff4f5"/><path d="M9.2,3.3 L5.3,2.3 L5.5,3.7 L9.2,4.7 Z" fill="#fff4f5"/><path d="M11.8,4.4 Q15.4,4.6 15,9 L15.6,14" stroke="#fff4f5" stroke-width="1" fill="none"/><path d="M15,13.3 L18.7,17 L16.7,18.7 L14.3,14.2 Z" fill="#fff4f5"/><path d="M7.3,10.2 h6 M7.3,12.6 h6 M7.3,16.9 h6" stroke="#f88a95" stroke-width="0.7"/><rect x="8.6" y="10.8" width="3.4" height="1.3" fill="#f88a95"/></g>
<g transform="translate(1280,112)"><rect width="20.3" height="20.3" rx="2.3" fill="#f6142c"/><rect x="7.3" y="5.4" width="6" height="13.2" rx="1.6" fill="#fff4f5"/><rect x="8.9" y="3.4" width="2.9" height="2.4" fill="#fff4f5"/><path d="M9.2,3.3 L5.3,2.3 L5.5,3.7 L9.2,4.7 Z" fill="#fff4f5"/><path d="M11.8,4.4 Q15.4,4.6 15,9 L15.6,14" stroke="#fff4f5" stroke-width="1" fill="none"/><path d="M15,13.3 L18.7,17 L16.7,18.7 L14.3,14.2 Z" fill="#fff4f5"/><path d="M7.3,10.2 h6 M7.3,12.6 h6 M7.3,16.9 h6" stroke="#f88a95" stroke-width="0.7"/><rect x="8.6" y="10.8" width="3.4" height="1.3" fill="#f88a95"/></g>
<rect x="567.3" y="21.6" width="274.4" height="31.8" fill="#fff" stroke="#000" stroke-width="3.2" rx="15"/>
<text x="596" y="43.5" font-size="15.5" font-weight="700" textLength="217" lengthAdjust="spacingAndGlyphs" style='fill:#000'>공과대학 제 7공학관 5층 안내도</text></svg></body></html>
